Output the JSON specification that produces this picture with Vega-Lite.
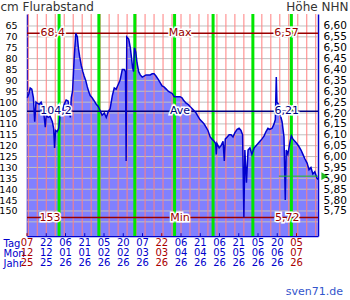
{
"$schema": "https://vega.github.io/schema/vega-lite/v6.json",
"width": 291, "height": 222,
"autosize": {"type": "none"},
"padding": {"left": 27, "top": 14, "right": 32, "bottom": 64},
"background": "white",
"config": {"view": {"stroke": null}, "font": "DejaVu Sans"},
"title": {"text": "sven71.de", "orient": "bottom", "anchor": "end", "frame": "bounds", "color": "#3355cc", "font": "DejaVu Sans", "fontSize": 11, "fontWeight": "normal", "offset": 18, "dx": -5},
"datasets": {
"main": [
{"t":"2025-12-07T06:00","cm":98},{"t":"2025-12-08T12:00","cm":96},{"t":"2025-12-09T12:00","cm":93.5},{"t":"2025-12-10T18:00","cm":94},{"t":"2025-12-12T00:00","cm":98},{"t":"2025-12-13T00:00","cm":109},{"t":"2025-12-14T00:00","cm":100},{"t":"2025-12-15T00:00","cm":100.5},{"t":"2025-12-16T12:00","cm":101},{"t":"2025-12-18T00:00","cm":100},{"t":"2025-12-19T18:00","cm":103},{"t":"2025-12-21T06:00","cm":111.5},{"t":"2025-12-22T00:00","cm":106},{"t":"2025-12-23T12:00","cm":107},{"t":"2025-12-25T00:00","cm":106.5},{"t":"2025-12-26T18:00","cm":109},{"t":"2025-12-27T18:00","cm":112},{"t":"2025-12-28T12:00","cm":121},{"t":"2025-12-29T06:00","cm":113},{"t":"2025-12-30T12:00","cm":113.5},{"t":"2025-12-31T18:00","cm":112},
{"t":"2026-01-02T00:00","cm":104},{"t":"2026-01-03T12:00","cm":104.5},{"t":"2026-01-05T00:00","cm":101},{"t":"2026-01-06T12:00","cm":99},{"t":"2026-01-08T00:00","cm":99.5},{"t":"2026-01-09T18:00","cm":107},{"t":"2026-01-10T12:00","cm":98},{"t":"2026-01-11T12:00","cm":95},{"t":"2026-01-12T18:00","cm":80},{"t":"2026-01-14T00:00","cm":68.4},{"t":"2026-01-15T06:00","cm":70},{"t":"2026-01-16T00:00","cm":75},{"t":"2026-01-17T00:00","cm":79},{"t":"2026-01-18T06:00","cm":83},{"t":"2026-01-19T12:00","cm":86},{"t":"2026-01-20T12:00","cm":88},{"t":"2026-01-21T18:00","cm":90},{"t":"2026-01-23T00:00","cm":93},{"t":"2026-01-24T00:00","cm":95},{"t":"2026-01-25T06:00","cm":97},{"t":"2026-01-26T18:00","cm":98},{"t":"2026-01-28T12:00","cm":99.5},{"t":"2026-01-30T00:00","cm":101},{"t":"2026-01-31T12:00","cm":102},
{"t":"2026-02-02T00:00","cm":104},{"t":"2026-02-03T12:00","cm":106},{"t":"2026-02-05T06:00","cm":105},{"t":"2026-02-06T18:00","cm":107},{"t":"2026-02-08T06:00","cm":104.5},{"t":"2026-02-09T18:00","cm":103},{"t":"2026-02-11T12:00","cm":97},{"t":"2026-02-13T00:00","cm":93.5},{"t":"2026-02-14T12:00","cm":94},{"t":"2026-02-16T00:00","cm":92},{"t":"2026-02-17T12:00","cm":90},{"t":"2026-02-19T06:00","cm":85},{"t":"2026-02-20T18:00","cm":85},{"t":"2026-02-21T18:00","cm":86},{"t":"2026-02-22T06:00","cm":127},{"t":"2026-02-22T18:00","cm":70},{"t":"2026-02-24T06:00","cm":71},{"t":"2026-02-25T12:00","cm":75},{"t":"2026-02-26T12:00","cm":80},{"t":"2026-02-27T06:00","cm":84},{"t":"2026-02-28T00:00","cm":86},{"t":"2026-02-28T18:00","cm":75},
{"t":"2026-03-01T18:00","cm":77},{"t":"2026-03-02T18:00","cm":82},{"t":"2026-03-04T00:00","cm":86},{"t":"2026-03-05T06:00","cm":87.5},{"t":"2026-03-06T18:00","cm":88.5},{"t":"2026-03-08T06:00","cm":88},{"t":"2026-03-09T18:00","cm":87.5},{"t":"2026-03-11T12:00","cm":87.5},{"t":"2026-03-13T00:00","cm":87.5},{"t":"2026-03-14T12:00","cm":87},{"t":"2026-03-16T00:00","cm":87},{"t":"2026-03-17T12:00","cm":88},{"t":"2026-03-19T06:00","cm":89.5},{"t":"2026-03-20T18:00","cm":91},{"t":"2026-03-22T06:00","cm":92.5},{"t":"2026-03-23T18:00","cm":93},{"t":"2026-03-25T12:00","cm":94},{"t":"2026-03-27T00:00","cm":95},{"t":"2026-03-28T12:00","cm":95.5},{"t":"2026-03-30T00:00","cm":96},{"t":"2026-03-31T18:00","cm":97.5},
{"t":"2026-04-02T06:00","cm":97.5},{"t":"2026-04-03T18:00","cm":97.5},{"t":"2026-04-05T06:00","cm":97.5},{"t":"2026-04-06T18:00","cm":98},{"t":"2026-04-08T12:00","cm":99.5},{"t":"2026-04-10T00:00","cm":100.5},{"t":"2026-04-11T12:00","cm":101},{"t":"2026-04-13T00:00","cm":102},{"t":"2026-04-14T18:00","cm":103},{"t":"2026-04-16T06:00","cm":104},{"t":"2026-04-17T18:00","cm":105},{"t":"2026-04-19T06:00","cm":106.5},{"t":"2026-04-20T18:00","cm":108},{"t":"2026-04-22T12:00","cm":109},{"t":"2026-04-24T00:00","cm":110},{"t":"2026-04-25T12:00","cm":111.5},{"t":"2026-04-27T00:00","cm":113},{"t":"2026-04-28T18:00","cm":116},{"t":"2026-04-30T06:00","cm":117},
{"t":"2026-05-01T18:00","cm":118},{"t":"2026-05-03T00:00","cm":119},{"t":"2026-05-03T12:00","cm":124},{"t":"2026-05-04T00:00","cm":119},{"t":"2026-05-05T18:00","cm":121},{"t":"2026-05-07T06:00","cm":120},{"t":"2026-05-08T18:00","cm":118},{"t":"2026-05-09T18:00","cm":127},{"t":"2026-05-10T12:00","cm":117},{"t":"2026-05-12T00:00","cm":116},{"t":"2026-05-13T12:00","cm":115},{"t":"2026-05-15T00:00","cm":115},{"t":"2026-05-16T12:00","cm":116},{"t":"2026-05-18T00:00","cm":114},{"t":"2026-05-19T18:00","cm":112.5},{"t":"2026-05-21T06:00","cm":112},{"t":"2026-05-22T18:00","cm":113},{"t":"2026-05-24T00:00","cm":115},{"t":"2026-05-25T00:00","cm":153},{"t":"2026-05-25T18:00","cm":122},{"t":"2026-05-27T00:00","cm":137},{"t":"2026-05-28T06:00","cm":122},{"t":"2026-05-29T18:00","cm":121},{"t":"2026-05-31T06:00","cm":124},
{"t":"2026-06-02T00:00","cm":121},{"t":"2026-06-03T12:00","cm":120},{"t":"2026-06-05T00:00","cm":119},{"t":"2026-06-06T12:00","cm":118},{"t":"2026-06-08T00:00","cm":117},{"t":"2026-06-09T18:00","cm":115.5},{"t":"2026-06-11T06:00","cm":113.5},{"t":"2026-06-12T18:00","cm":112},{"t":"2026-06-14T06:00","cm":112.5},{"t":"2026-06-16T00:00","cm":112},{"t":"2026-06-17T12:00","cm":110},{"t":"2026-06-18T12:00","cm":108},{"t":"2026-06-19T06:00","cm":88.5},{"t":"2026-06-19T18:00","cm":100},{"t":"2026-06-21T00:00","cm":101},{"t":"2026-06-22T00:00","cm":105},{"t":"2026-06-23T18:00","cm":109},{"t":"2026-06-25T06:00","cm":116},{"t":"2026-06-26T06:00","cm":145},{"t":"2026-06-27T00:00","cm":122},{"t":"2026-06-28T06:00","cm":124},{"t":"2026-06-30T00:00","cm":118},
{"t":"2026-07-01T00:00","cm":115.5},{"t":"2026-07-02T06:00","cm":117},{"t":"2026-07-03T18:00","cm":118},{"t":"2026-07-05T06:00","cm":119},{"t":"2026-07-07T00:00","cm":120.5},{"t":"2026-07-08T12:00","cm":122},{"t":"2026-07-10T00:00","cm":124},{"t":"2026-07-11T12:00","cm":126},{"t":"2026-07-13T06:00","cm":128},{"t":"2026-07-14T18:00","cm":131},{"t":"2026-07-16T06:00","cm":130},{"t":"2026-07-17T18:00","cm":133},{"t":"2026-07-19T06:00","cm":132},{"t":"2026-07-21T00:00","cm":135},{"t":"2026-07-21T18:00","cm":135.5}
],
"hgrid": [{"v":65},{"v":70},{"v":75},{"v":80},{"v":85},{"v":90},{"v":95},{"v":100},{"v":105},{"v":110},{"v":115},{"v":120},{"v":125},{"v":130},{"v":135},{"v":140},{"v":145},{"v":150},{"v":155}],
"weeks": [{"d":"2025-12-08T00:00"},{"d":"2025-12-15T00:00"},{"d":"2025-12-22T00:00"},{"d":"2025-12-29T00:00"},{"d":"2026-01-05T00:00"},{"d":"2026-01-12T00:00"},{"d":"2026-01-19T00:00"},{"d":"2026-01-26T00:00"},{"d":"2026-02-02T00:00"},{"d":"2026-02-09T00:00"},{"d":"2026-02-16T00:00"},{"d":"2026-02-23T00:00"},{"d":"2026-03-02T00:00"},{"d":"2026-03-09T00:00"},{"d":"2026-03-16T00:00"},{"d":"2026-03-23T00:00"},{"d":"2026-03-30T00:00"},{"d":"2026-04-06T00:00"},{"d":"2026-04-13T00:00"},{"d":"2026-04-20T00:00"},{"d":"2026-04-27T00:00"},{"d":"2026-05-04T00:00"},{"d":"2026-05-11T00:00"},{"d":"2026-05-18T00:00"},{"d":"2026-05-25T00:00"},{"d":"2026-06-01T00:00"},{"d":"2026-06-08T00:00"},{"d":"2026-06-15T00:00"},{"d":"2026-06-22T00:00"},{"d":"2026-06-29T00:00"},{"d":"2026-07-06T00:00"},{"d":"2026-07-13T00:00"},{"d":"2026-07-20T00:00"}],
"months": [{"d":"2026-01-01T00:00"},{"d":"2026-02-01T00:00"},{"d":"2026-03-01T00:00"},{"d":"2026-04-01T00:00"},{"d":"2026-05-01T00:00"},{"d":"2026-06-01T00:00"},{"d":"2026-07-01T00:00"}],
"stats": [{"v":68.4,"c":"#990000"},{"v":104.2,"c":"#000080"},{"v":153,"c":"#990000"}],
"xlab": [{"d":"2025-12-07T00:00","a":"07","b":"12","y":"25","c":"#aa0000"},{"d":"2025-12-22T00:00","a":"22","b":"12","y":"25","c":"#0000cc"},{"d":"2026-01-06T00:00","a":"06","b":"01","y":"26","c":"#0000cc"},{"d":"2026-01-21T00:00","a":"21","b":"01","y":"26","c":"#0000cc"},{"d":"2026-02-05T00:00","a":"05","b":"02","y":"26","c":"#0000cc"},{"d":"2026-02-20T00:00","a":"20","b":"02","y":"26","c":"#0000cc"},{"d":"2026-03-07T00:00","a":"07","b":"03","y":"26","c":"#0000cc"},{"d":"2026-03-22T00:00","a":"22","b":"03","y":"26","c":"#aa0000"},{"d":"2026-04-06T00:00","a":"06","b":"04","y":"26","c":"#0000cc"},{"d":"2026-04-21T00:00","a":"21","b":"04","y":"26","c":"#0000cc"},{"d":"2026-05-06T00:00","a":"06","b":"05","y":"26","c":"#0000cc"},{"d":"2026-05-21T00:00","a":"21","b":"05","y":"26","c":"#0000cc"},{"d":"2026-06-05T00:00","a":"05","b":"06","y":"26","c":"#0000cc"},{"d":"2026-06-20T00:00","a":"20","b":"06","y":"26","c":"#0000cc"},{"d":"2026-07-05T00:00","a":"05","b":"07","y":"26","c":"#aa0000"}],
"annot": [{"t":"2025-12-27T02:00","v":68.4,"s":"68,4","c":"#990000"},{"t":"2026-04-05T06:00","v":68.4,"s":"Max","c":"#990000"},{"t":"2026-06-27T05:00","v":68.4,"s":"6,57","c":"#990000"},{"t":"2025-12-29T14:00","v":104.2,"s":"104,2","c":"#000080"},{"t":"2026-04-05T06:00","v":104.2,"s":"Ave","c":"#000080"},{"t":"2026-06-27T10:00","v":104.2,"s":"6,21","c":"#000080"},{"t":"2025-12-24T22:00","v":153,"s":"153","c":"#990000"},{"t":"2026-04-05T06:00","v":153,"s":"Min","c":"#990000"},{"t":"2026-06-27T19:00","v":153,"s":"5,72","c":"#990000"}],
"current": [{"t1":"2026-06-21T06:00","t2":"2026-07-21T18:00","v":134}],
"arrow": [{"t":"2026-07-27T00:00","v":134}]
},
"layer": [
{"data": {"name": "main"}, "mark": {"type": "area", "color": "#8080ff", "opacity": 1},
 "encoding": {
  "x": {"field": "t", "type": "temporal", "scale": {"type": "time", "domain": [{"year":2025,"month":12,"date":7},{"year":2026,"month":7,"date":21,"hours":18}], "nice": false},
   "axis": {"labels": false, "ticks": false, "grid": false, "domain": true, "domainColor": "#0000cc", "domainWidth": 1.5,
    "title": ["Tag", "Mon", "Jahr"], "titleX": -24, "titleY": 2, "titleAlign": "left", "titleBaseline": "top", "titleAngle": 0, "titleColor": "#0000cc", "titleFont": "DejaVu Sans", "titleFontSize": 10, "titleFontWeight": "normal", "titleLineHeight": 10}},
  "y": {"field": "cm", "type": "quantitative", "scale": {"domain": [59.5, 161.5], "reverse": true, "zero": false, "nice": false},
   "axis": {"values": [65,70,75,80,85,90,95,100,105,110,115,120,125,130,135,140,145,150], "format": "d", "ticks": false, "grid": false, "domain": true, "domainColor": "#0000cc", "domainWidth": 1.5, "labelPadding": 10, "labelFont": "DejaVu Sans", "labelFontSize": 9.5, "labelColor": "#000000", "labelOverlap": false,
    "title": "cm Flurabstand", "titleAngle": 0, "titleAlign": "left", "titleBaseline": "middle", "titleX": -27, "titleY": -8, "titleFont": "DejaVu Sans", "titleFontSize": 12, "titleFontWeight": "normal", "titleColor": "#333333"}},
  "y2": {"datum": 161.5}
 }},
{"data": {"name": "hgrid"}, "mark": {"type": "rule", "color": "#c0c0c0", "strokeWidth": 1},
 "encoding": {
  "y": {"field": "v", "type": "quantitative", "scale": {"domain": [59.5, 161.5], "reverse": true, "zero": false, "nice": false},
   "axis": {"orient": "right", "values": [65,70,75,80,85,90,95,100,105,110,115,120,125,130,135,140,145,150], "labelExpr": "replace(format(7.25 - datum.value/100, '.2f'), '.', ',')", "ticks": false, "grid": false, "domain": true, "domainColor": "#0000cc", "domainWidth": 1.5, "labelPadding": 5, "labelFont": "DejaVu Sans", "labelFontSize": 10.5, "labelColor": "#000000", "labelOverlap": false,
    "title": "Höhe NHN", "titleAngle": 0, "titleAlign": "right", "titleBaseline": "middle", "titleX": 30, "titleY": -8, "titleFont": "DejaVu Sans", "titleFontSize": 12, "titleFontWeight": "normal", "titleColor": "#333333"}}
 }},
{"data": {"name": "weeks"}, "mark": {"type": "rule", "color": "#ff7f7f", "strokeWidth": 1},
 "encoding": {"x": {"field": "d", "type": "temporal"}}},
{"data": {"name": "months"}, "mark": {"type": "rule", "color": "#00e600", "strokeWidth": 3},
 "encoding": {"x": {"field": "d", "type": "temporal"}}},
{"data": {"name": "stats"}, "mark": {"type": "rule", "strokeWidth": 1.5},
 "encoding": {"y": {"field": "v", "type": "quantitative", "axis": null}, "color": {"field": "c", "type": "nominal", "scale": null}}},
{"data": {"name": "main"}, "mark": {"type": "line", "color": "#0000cc", "strokeWidth": 1.5},
 "encoding": {"x": {"field": "t", "type": "temporal"}, "y": {"field": "cm", "type": "quantitative", "axis": null}}},
{"data": {"name": "current"}, "mark": {"type": "rule", "color": "#22bb22", "strokeWidth": 1},
 "encoding": {"x": {"field": "t1", "type": "temporal"}, "x2": {"field": "t2"}, "y": {"field": "v", "type": "quantitative", "axis": null}}},
{"data": {"name": "arrow"}, "mark": {"type": "point", "shape": "triangle-right", "filled": true, "color": "#22bb22", "size": 60, "opacity": 1},
 "encoding": {"x": {"field": "t", "type": "temporal"}, "y": {"field": "v", "type": "quantitative", "axis": null}}},
{"data": {"name": "xlab"}, "mark": {"type": "rule", "strokeWidth": 1},
 "encoding": {"x": {"field": "d", "type": "temporal"}, "y": {"datum": 160.2, "axis": null}, "y2": {"datum": 161.5}, "color": {"field": "c", "type": "nominal", "scale": null}}},
{"data": {"name": "xlab"}, "mark": {"type": "text", "font": "DejaVu Sans", "fontSize": 10, "baseline": "middle", "align": "center"},
 "encoding": {"x": {"field": "d", "type": "temporal"}, "y": {"datum": 164.6, "axis": null}, "text": {"field": "a"}, "color": {"field": "c", "type": "nominal", "scale": null}}},
{"data": {"name": "xlab"}, "mark": {"type": "text", "font": "DejaVu Sans", "fontSize": 10, "baseline": "middle", "align": "center"},
 "encoding": {"x": {"field": "d", "type": "temporal"}, "y": {"datum": 169.2, "axis": null}, "text": {"field": "b"}, "color": {"field": "c", "type": "nominal", "scale": null}}},
{"data": {"name": "xlab"}, "mark": {"type": "text", "font": "DejaVu Sans", "fontSize": 10, "baseline": "middle", "align": "center"},
 "encoding": {"x": {"field": "d", "type": "temporal"}, "y": {"datum": 173.8, "axis": null}, "text": {"field": "y"}, "color": {"field": "c", "type": "nominal", "scale": null}}},
{"data": {"name": "annot"}, "mark": {"type": "text", "font": "DejaVu Sans", "fontSize": 11, "stroke": "white", "strokeWidth": 3, "fill": "white", "baseline": "middle", "align": "center"},
 "encoding": {"x": {"field": "t", "type": "temporal"}, "y": {"field": "v", "type": "quantitative", "axis": null}, "text": {"field": "s"}}},
{"data": {"name": "annot"}, "mark": {"type": "text", "font": "DejaVu Sans", "fontSize": 11, "baseline": "middle", "align": "center"},
 "encoding": {"x": {"field": "t", "type": "temporal"}, "y": {"field": "v", "type": "quantitative", "axis": null}, "text": {"field": "s"}, "color": {"field": "c", "type": "nominal", "scale": null}}}
],
"resolve": {"axis": {"y": "independent"}}
}
